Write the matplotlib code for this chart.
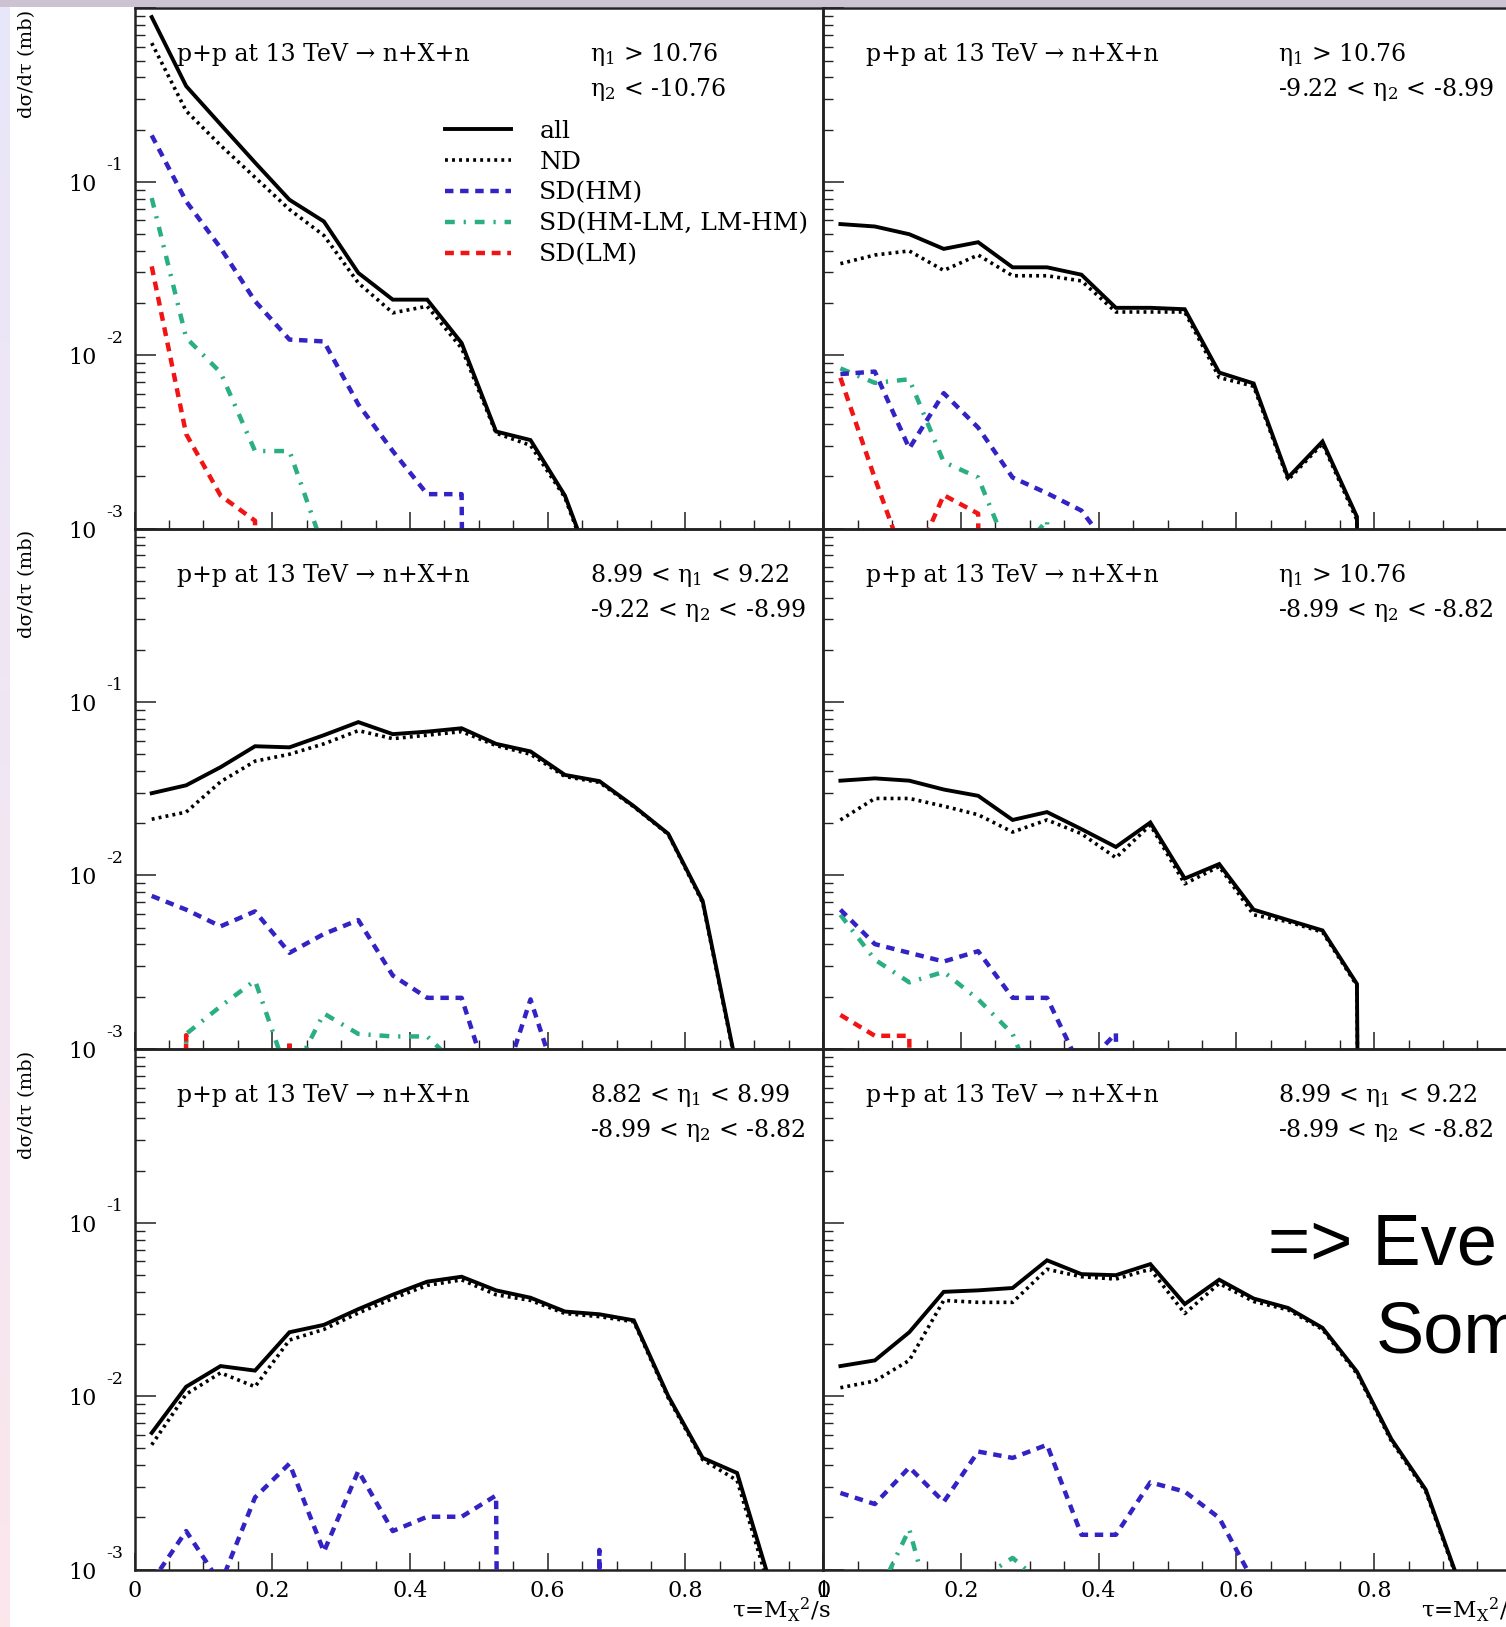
import numpy as np
import matplotlib
matplotlib.use("Agg")
import matplotlib.pyplot as plt
from matplotlib.lines import Line2D
from matplotlib.patches import Rectangle
from matplotlib import transforms
import matplotlib.ticker as mticker

plt.rcParams['font.family'] = ['DejaVu Serif']
plt.rcParams['mathtext.fontset'] = 'dejavuserif'

# ---------------- data (dsigma/dtau in mb, per tau bin) ----------------
tau = [0.025, 0.075, 0.125, 0.175, 0.225, 0.275, 0.325, 0.375, 0.425, 0.475,
       0.525, 0.575, 0.625, 0.675, 0.725, 0.775, 0.825, 0.875, 0.925, 0.975]

# panel 1: eta1 > 10.76, eta2 < -10.76
p1_all = [0.89, 0.356, 0.214, 0.129, 0.0787, 0.0590, 0.0298, 0.0209, 0.0209, 0.01175,
          0.00363, 0.00324, 0.00155, 0.000457, 0, 0, 0, 0, 0, 0]
p1_nd = [0.63, 0.256, 0.162, 0.106, 0.0692, 0.0490, 0.0261, 0.01754, 0.01914, 0.01096,
         0.00355, 0.00302, 0.00151, 0.000437, 0, 0, 0, 0, 0, 0]
p1_hm = [0.185, 0.0771, 0.0415, 0.0205, 0.0123, 0.0120, 0.0052, 0.0028, 0.00158, 0.00158,
         0, 0, 0, 0, 0, 0, 0, 0, 0, 0]
p1_mix = [0.0805, 0.0126, 0.00794, 0.0028, 0.0028, 0.00076, 0, 0, 0, 0,
          0, 0, 0, 0, 0, 0, 0, 0, 0, 0]
p1_lm = [0.0325, 0.00351, 0.00155, 0.00111, 0, 0, 0, 0, 0, 0,
         0, 0, 0, 0, 0, 0, 0, 0, 0, 0]

# panel 2: eta1 > 10.76, -9.22 < eta2 < -8.99
p2_all = [0.0570, 0.0552, 0.0498, 0.0410, 0.0448, 0.0321, 0.0321, 0.0291, 0.01875, 0.01875,
          0.0184, 0.00794, 0.00687, 0.00197, 0.00318, 0.00117, 0, 0, 0, 0]
p2_nd = [0.0337, 0.0378, 0.0399, 0.0308, 0.0378, 0.0287, 0.0287, 0.0268, 0.01774, 0.01774,
         0.01774, 0.00743, 0.00662, 0.00191, 0.00309, 0.00112, 0, 0, 0, 0]
p2_hm = [0.00778, 0.00804, 0.0029, 0.00604, 0.00382, 0.00197, 0.0016, 0.00127, 0.00069, 0,
         0, 0, 0, 0, 0, 0, 0, 0, 0, 0]
p2_mix = [0.00839, 0.00692, 0.00726, 0.00242, 0.00197, 0.000646, 0.00112, 0, 0, 0,
          0, 0, 0, 0, 0, 0, 0, 0, 0, 0]
p2_lm = [0.00741, 0.00195, 0.00055, 0.00156, 0.00122, 0, 0, 0, 0, 0,
         0, 0, 0, 0, 0, 0, 0, 0, 0, 0]

# panel 3: 8.99 < eta1 < 9.22, -9.22 < eta2 < -8.99
p3_all = [0.0298, 0.0331, 0.0421, 0.0556, 0.0548, 0.0644, 0.0766, 0.0653, 0.0675, 0.0706,
          0.0574, 0.0519, 0.0380, 0.0350, 0.0251, 0.0174, 0.00713, 0.00076, 0, 0]
p3_nd = [0.0211, 0.0232, 0.0347, 0.0456, 0.0500, 0.0574, 0.0684, 0.0615, 0.0644, 0.0675,
         0.0561, 0.0500, 0.0372, 0.0344, 0.0249, 0.01726, 0.00697, 0.00074, 0, 0]
p3_hm = [0.00762, 0.00635, 0.00509, 0.00621, 0.00358, 0.0046, 0.00553, 0.00265, 0.00197, 0.00197,
         0.00047, 0.00193, 0.00047, 0, 0, 0, 0, 0, 0, 0]
p3_mix = [0, 0.00122, 0.00176, 0.00248, 0.00066, 0.0016, 0.00122, 0.00118, 0.00118, 0.00076,
          0, 0, 0, 0, 0, 0, 0, 0, 0, 0]
p3_lm = [0, 0.0012, 0, 0, 0.00112, 0, 0, 0, 0, 0,
         0, 0, 0, 0, 0, 0, 0, 0, 0, 0]

# panel 4: eta1 > 10.76, -8.99 < eta2 < -8.82
p4_all = [0.0352, 0.0363, 0.0352, 0.0313, 0.0288, 0.0209, 0.0232, 0.0185, 0.0146, 0.0202,
          0.0096, 0.01164, 0.00635, 0.00553, 0.00482, 0.00237, 0, 0, 0, 0]
p4_nd = [0.0209, 0.0278, 0.0278, 0.0251, 0.0224, 0.0178, 0.0209, 0.0174, 0.01265, 0.01954,
         0.00895, 0.01127, 0.00593, 0.00541, 0.00471, 0.00232, 0, 0, 0, 0]
p4_hm = [0.00635, 0.00402, 0.00358, 0.00319, 0.00366, 0.00197, 0.00197, 0.00076, 0.00123, 0,
         0, 0, 0, 0, 0, 0, 0, 0, 0, 0]
p4_mix = [0.00593, 0.00327, 0.00242, 0.00278, 0.00193, 0.00122, 0.0004, 0, 0, 0,
          0, 0, 0, 0, 0, 0, 0, 0, 0, 0]
p4_lm = [0.00157, 0.00119, 0.00119, 0, 0, 0, 0, 0, 0, 0,
         0, 0, 0, 0, 0, 0, 0, 0, 0, 0]

# panel 5: 8.82 < eta1 < 8.99, -8.99 < eta2 < -8.82
p5_all = [0.00615, 0.01135, 0.01493, 0.01406, 0.0234, 0.0258, 0.0318, 0.0385, 0.0458, 0.0489,
          0.0408, 0.0370, 0.0308, 0.0297, 0.0274, 0.01002, 0.00441, 0.00361, 0.00079, 0]
p5_nd = [0.00525, 0.01028, 0.01365, 0.01135, 0.0211, 0.0243, 0.0302, 0.0366, 0.0436, 0.0469,
         0.0385, 0.0357, 0.0300, 0.0288, 0.0269, 0.00977, 0.00431, 0.00327, 0.00071, 0]
p5_hm = [0.00085, 0.00167, 0.00083, 0.00261, 0.00409, 0.00127, 0.00371, 0.00167, 0.00202, 0.00202,
         0.00268, 0, 0, 0.0013, 0, 0, 0, 0, 0, 0]
p5_mix = [0, 0, 0, 0, 0, 0, 0, 0, 0, 0, 0, 0, 0, 0, 0, 0, 0, 0, 0, 0]
p5_lm = [0, 0, 0, 0, 0, 0, 0, 0, 0, 0, 0, 0, 0, 0, 0, 0, 0, 0, 0, 0]

# panel 6: 8.99 < eta1 < 9.22, -8.99 < eta2 < -8.82
p6_all = [0.01493, 0.0161, 0.0234, 0.040, 0.0408, 0.0421, 0.0608, 0.0506, 0.0499, 0.0578,
          0.0340, 0.0470, 0.0366, 0.0323, 0.0248, 0.01387, 0.00566, 0.00289, 0.00081, 0]
p6_nd = [0.0112, 0.01225, 0.0161, 0.0357, 0.0348, 0.0348, 0.054, 0.0489, 0.0474, 0.054,
         0.030, 0.0447, 0.0352, 0.0315, 0.0243, 0.01352, 0.00552, 0.00282, 0.00079, 0]
p6_hm = [0.00277, 0.00239, 0.00389, 0.00246, 0.0048, 0.00441, 0.00525, 0.00159, 0.00159, 0.00319,
         0.00282, 0.00199, 0.00085, 0, 0, 0, 0, 0, 0, 0]
p6_mix = [0, 0.00066, 0.00171, 0.00032, 0.00087, 0.00117, 0.00079, 0, 0, 0,
          0, 0, 0, 0, 0, 0, 0, 0, 0, 0]
p6_lm = [0, 0, 0, 0, 0, 0, 0, 0, 0, 0, 0, 0, 0, 0, 0, 0, 0, 0, 0, 0]

process_text = "p+p at 13 TeV \u2192 n+X+n"
eta1_texts = ["\u03b7$_{1}$ > 10.76", "\u03b7$_{1}$ > 10.76", "8.99 < \u03b7$_{1}$ < 9.22",
              "\u03b7$_{1}$ > 10.76", "8.82 < \u03b7$_{1}$ < 8.99", "8.99 < \u03b7$_{1}$ < 9.22"]
eta2_texts = ["\u03b7$_{2}$ < -10.76", "-9.22 < \u03b7$_{2}$ < -8.99", "-9.22 < \u03b7$_{2}$ < -8.99",
              "-8.99 < \u03b7$_{2}$ < -8.82", "-8.99 < \u03b7$_{2}$ < -8.82", "-8.99 < \u03b7$_{2}$ < -8.82"]
legend_labels = ["all", "ND", "SD(HM)", "SD(HM-LM, LM-HM)", "SD(LM)"]
xtick_vals = [0, 0.2, 0.4, 0.6, 0.8, 1.0]
xtick_labels = ["0", "0.2", "0.4", "0.6", "0.8", "1"]
ytick_exps = [-3, -2, -1]

panels = [
    (p1_all, p1_nd, p1_hm, p1_mix, p1_lm),
    (p2_all, p2_nd, p2_hm, p2_mix, p2_lm),
    (p3_all, p3_nd, p3_hm, p3_mix, p3_lm),
    (p4_all, p4_nd, p4_hm, p4_mix, p4_lm),
    (p5_all, p5_nd, p5_hm, p5_mix, p5_lm),
    (p6_all, p6_nd, p6_hm, p6_mix, p6_lm),
]

# ---------------- styles ----------------
styles = [
    dict(color="black", lw=2.8, ls="-"),
    dict(color="black", lw=2.6, ls=(0, (0.8, 1.15))),
    dict(color="#3322c4", lw=3.2, ls=(0, (1.9, 1.5))),
    dict(color="#2aae84", lw=3.2, ls=(0, (2.2, 2.0, 0.5, 2.0))),
    dict(color="#f01414", lw=3.2, ls=(0, (2.0, 1.5))),
]
FRAME = "#222222"

W, H = 1506, 1627
fig = plt.figure(figsize=(W / 100, H / 100), dpi=100)
fig.patch.set_facecolor("white")

# slide background strips
bg = fig.add_axes([0, 0, 1, 1], zorder=-10)
grad = np.linspace(0, 1, 256)[:, None, None]
top_col = np.array([0.91, 0.905, 0.98])
bot_col = np.array([0.985, 0.905, 0.925])
img = top_col[None, None, :] * (1 - grad) + bot_col[None, None, :] * grad
bg.imshow(img, extent=(0, 10, H, 7), aspect="auto")
bg.add_patch(Rectangle((0, 0), W, 7, color=(0.80, 0.76, 0.82), lw=0))
bg.set_xlim(0, W)
bg.set_ylim(H, 0)
bg.axis("off")

col_left = [134.5, 823.2]
ax_w = 688.7
row_top = [8.3, 528.6, 1049.4]
ax_h = 520.3

FLOOR = 1e-30

for idx, series in enumerate(panels):
    r, c = divmod(idx, 2)
    left = col_left[c] / W
    bottom = (H - row_top[r] - ax_h) / H
    ax = fig.add_axes([left, bottom, ax_w / W, ax_h / H])
    ax.set_facecolor("none")
    ax.set_xlim(0, 1)
    ax.set_yscale("log")
    ax.set_ylim(1e-3, 1)

    for k in [4, 3, 2, 1, 0]:
        vals = np.asarray(series[k], dtype=float)
        vals = np.where(vals > 0, vals, FLOOR)
        st = styles[k]
        ax.plot(tau, vals, color=st["color"], lw=st["lw"], ls=st["ls"],
                solid_joinstyle="miter", dash_capstyle="butt", zorder=3 + (4 - k))

    for sp in ax.spines.values():
        sp.set_color(FRAME)
        sp.set_linewidth(1.8)

    ax.xaxis.set_major_locator(mticker.FixedLocator(xtick_vals))
    ax.xaxis.set_minor_locator(mticker.MultipleLocator(0.05))
    ax.yaxis.set_major_locator(mticker.LogLocator(base=10, numticks=10))
    ax.yaxis.set_minor_locator(mticker.LogLocator(base=10, subs=np.arange(2, 10), numticks=20))
    ax.yaxis.set_minor_formatter(mticker.NullFormatter())
    ax.xaxis.set_tick_params(which="major", direction="in", length=12.2, width=1.1,
                             color=FRAME, top=False, pad=7.5, labelsize=16)
    ax.xaxis.set_tick_params(which="minor", direction="in", length=6.5, width=1.0,
                             color=FRAME, top=False)
    ax.yaxis.set_tick_params(which="major", direction="in", length=15, width=1.1,
                             color=FRAME, right=False, labelleft=False)
    ax.yaxis.set_tick_params(which="minor", direction="in", length=7.2, width=1.0,
                             color=FRAME, right=False, labelleft=False)
    if r == 2:
        ax.set_xticklabels(xtick_labels)
    else:
        ax.set_xticklabels([])

    ax.text(0.0617, 0.898, process_text, transform=ax.transAxes, fontsize=17,
            va="baseline", ha="left", zorder=10)
    ax.text(0.661, 0.898, eta1_texts[idx], transform=ax.transAxes, fontsize=17,
            va="baseline", ha="left", zorder=10)
    ax.text(0.661, 0.8307, eta2_texts[idx], transform=ax.transAxes, fontsize=17,
            va="baseline", ha="left", zorder=10)

    if c == 0:
        base = transforms.blended_transform_factory(ax.transAxes, ax.transData)
        down = base + transforms.ScaledTranslation(0, -9.0 / 100, fig.dpi_scale_trans)
        up = base + transforms.ScaledTranslation(0, 12.0 / 100, fig.dpi_scale_trans)
        for e in ytick_exps:
            ax.text(-0.0545, 10.0 ** e, "10", transform=down, ha="right", va="baseline",
                    fontsize=16)
            ax.text(-0.0414, 10.0 ** e, str(e), transform=up, ha="left", va="baseline",
                    fontsize=12.5)
        fig.text(27 / W, 1 - (row_top[r] + 1.5) / H, "d\u03c3/d\u03c4 (mb)", rotation=90,
                 ha="center", va="top", fontsize=14)

    if r == 2:
        fig.text((col_left[c] + 0.868 * ax_w) / W, 1 - 1618 / H,
                 "\u03c4=M$_{\\mathrm{X}}$$^{2}$/s",
                 ha="left", va="baseline", fontsize=16.5)

    if idx == 0:
        handles = [Line2D([], [], color=st["color"], lw=st["lw"], ls=st["ls"],
                          dash_capstyle="butt") for st in styles]
        ax.legend(handles, legend_labels, loc="upper left", bbox_to_anchor=(0.451, 0.786),
                  frameon=False, fontsize=18, handlelength=2.65, handletextpad=1.12,
                  labelspacing=0.32, borderpad=0, borderaxespad=0)

# slide overlay text
fig.text(1268 / W, 1 - 1264.6 / H, "=> Eve", fontsize=52, family="Liberation Sans",
         ha="left", va="baseline", zorder=20)
fig.text(1375.5 / W, 1 - 1352.6 / H, "Som", fontsize=52, family="Liberation Sans",
         ha="left", va="baseline", zorder=20)

fig.savefig("out.png", dpi=100)
